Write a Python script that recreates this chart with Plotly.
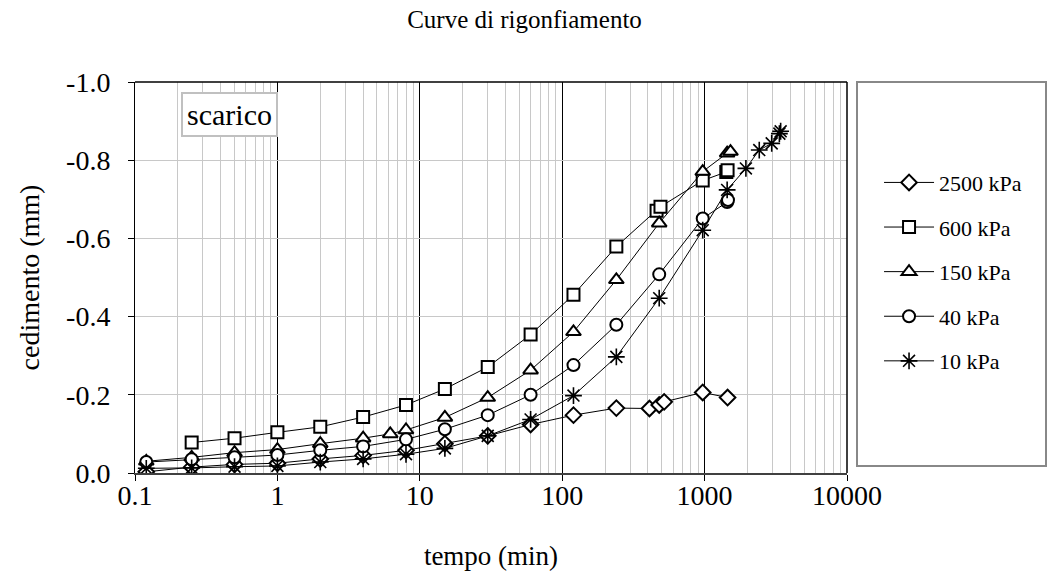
import plotly.graph_objects as go

# Swelling (unloading) curves: elapsed time (min) vs settlement (mm)
t_2500 = [0.12, 0.25, 0.5, 1, 2, 4, 8, 15, 30, 60, 120, 240, 410, 480, 520, 970, 1450]
s_2500 = [-0.003, -0.015, -0.022, -0.025, -0.036, -0.045, -0.058, -0.075, -0.095, -0.124,
          -0.148, -0.166, -0.165, -0.174, -0.182, -0.206, -0.193]

t_600 = [0.25, 0.5, 1, 2, 4, 8, 15, 30, 60, 120, 240, 460, 490, 970, 1420, 1450]
s_600 = [-0.078, -0.089, -0.104, -0.118, -0.143, -0.174, -0.215, -0.271, -0.354, -0.456,
         -0.579, -0.671, -0.681, -0.748, -0.770, -0.774]

t_150 = [0.12, 0.25, 0.5, 1, 2, 4, 6.2, 8, 15, 30, 60, 120, 240, 480, 970, 1440, 1520]
s_150 = [-0.030, -0.040, -0.052, -0.060, -0.075, -0.089, -0.100, -0.110, -0.142, -0.193,
         -0.263, -0.361, -0.494, -0.639, -0.771, -0.818, -0.822]

t_40 = [0.12, 0.25, 0.5, 1, 2, 4, 8, 15, 30, 60, 120, 240, 480, 970, 1440, 1460]
s_40 = [-0.028, -0.035, -0.040, -0.046, -0.058, -0.068, -0.086, -0.112, -0.148, -0.200,
        -0.276, -0.379, -0.508, -0.651, -0.693, -0.698]

t_10 = [0.12, 0.25, 0.5, 1, 2, 4, 8, 15, 30, 60, 120, 240, 480, 970, 1440, 1950, 2420,
        2960, 3350, 3420]
s_10 = [-0.012, -0.013, -0.016, -0.018, -0.028, -0.036, -0.048, -0.063, -0.095, -0.137,
        -0.198, -0.297, -0.447, -0.621, -0.724, -0.779, -0.826, -0.843, -0.868, -0.874]

series_names = ["2500 kPa", "600 kPa", "150 kPa", "40 kPa", "10 kPa"]
series_t = [t_2500, t_600, t_150, t_40, t_10]
series_s = [s_2500, s_600, s_150, s_40, s_10]
symbols = ["diamond", "square", "triangle-up", "circle", "asterisk-open"]
fills = ["white", "white", "white", "white", "black"]
sizes = [12, 12, 13, 12, 14]
strokes = [2, 2, 2, 2, 1.6]

x_tickvals = [0.1, 1, 10, 100, 1000, 10000]
x_ticktext = ["0.1", "1", "10", "100", "1000", "10000"]
y_tickvals = [-1.0, -0.8, -0.6, -0.4, -0.2, 0.0]
y_ticktext = ["-1.0", "-0.8", "-0.6", "-0.4", "-0.2", "0.0"]

FONT = "Liberation Serif, Times New Roman, serif"

fig = go.Figure()
for name, t, s, sym, fc, sz, sw in zip(series_names, series_t, series_s, symbols,
                                        fills, sizes, strokes):
    fig.add_trace(go.Scatter(
        x=t, y=s, name=name, mode="lines+markers",
        legendgroup=name,
        line=dict(color="black", width=1),
        marker=dict(symbol=sym, size=sz, color=fc,
                    line=dict(color="black", width=sw)),
    ))

fig.update_layout(
    width=1049, height=573,
    margin=dict(l=135, r=202, t=82, b=100),
    paper_bgcolor="white", plot_bgcolor="white",
    font=dict(family=FONT, color="black"),
    title=dict(text="Curve di rigonfiamento", x=0.5, xref="container", xanchor="center",
               y=1 - 19 / 573, yref="container", yanchor="middle",
               font=dict(size=25, family=FONT, color="black")),
    showlegend=True,
    legend=dict(x=1.045, xanchor="left", y=0.515, yanchor="middle",
                font=dict(size=22, family=FONT), tracegroupgap=13, itemwidth=50,
                bgcolor="rgba(0,0,0,0)", borderwidth=0),
    xaxis=dict(type="log", range=[-1, 4], tickvals=x_tickvals, ticktext=x_ticktext,
               tickfont=dict(size=28, family=FONT), ticks="outside", ticklen=6,
               tickcolor="black", showgrid=True, gridcolor="black", gridwidth=1,
               minor=dict(showgrid=True, gridcolor="#c8c8c8", gridwidth=1,
                          dtick="D1", ticks=""),
               showline=True, linecolor="#404040", linewidth=2, mirror=False,
               zeroline=False, ticklabelstandoff=-10, automargin=False,
               title=dict(text="tempo (min)", font=dict(size=27, family=FONT), standoff=37)),
    yaxis=dict(range=[0, -1.0], tickvals=y_tickvals, ticktext=y_ticktext,
               tickfont=dict(size=28, family=FONT), ticks="outside", ticklen=6,
               tickcolor="black", showgrid=True, gridcolor="#c8c8c8", gridwidth=1,
               showline=True, linecolor="black", linewidth=1, zeroline=False,
               ticklabelstandoff=12, automargin=False,
               title=dict(text="cedimento (mm)", font=dict(size=28, family=FONT), standoff=18)),
)

# Plot frame: top edge and right edge
fig.add_shape(type="line", xref="paper", yref="paper", x0=0, x1=1, y0=1, y1=1,
              line=dict(color="black", width=1.5))
fig.add_shape(type="line", xref="paper", yref="paper", x0=1, x1=1, y0=0, y1=1,
              line=dict(color="black", width=1.5))

# Legend frame
fig.add_shape(type="rect", xref="paper", yref="paper",
              x0=(857 - 135) / 712, x1=(1046 - 135) / 712,
              y0=(473 - 466) / 391, y1=1.0,
              line=dict(color="#888888", width=2), fillcolor="rgba(0,0,0,0)", layer="below")

# "scarico" label box
fig.add_annotation(text="scarico", xref="paper", yref="paper",
                   x=(181 - 135) / 712, y=(473 - 92) / 391, xanchor="left", yanchor="top",
                   showarrow=False, font=dict(size=30, family=FONT, color="black"),
                   bgcolor="white", bordercolor="#c0c0c0", borderwidth=2, borderpad=4)

fig.write_html("out.html")
